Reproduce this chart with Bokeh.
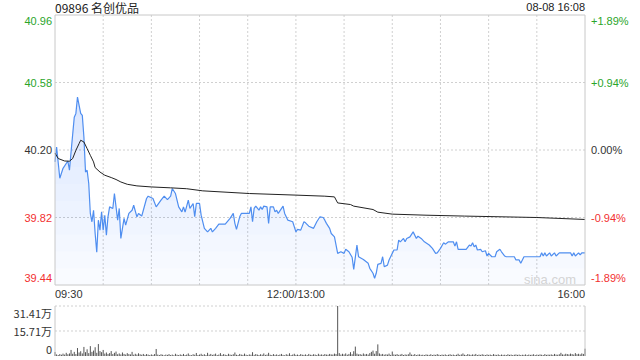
import numpy as np
from bokeh.plotting import figure
from bokeh.models import Range1d, Label
from bokeh.layouts import column
from bokeh.embed import file_html
from bokeh.resources import INLINE

# ---------------- data ----------------
title_text = "09896 名创优品"
stamp_text = "08-08 16:08"
prev_close = 40.20

price_labels_left = ["40.96", "40.58", "40.20", "39.82", "39.44"]
price_levels = [40.96, 40.58, 40.20, 39.82, 39.44]
pct_labels_right = ["+1.89%", "+0.94%", "0.00%", "-0.94%", "-1.89%"]
time_labels = ["09:30", "12:00/13:00", "16:00"]
time_label_pos = [0, 150, 330]          # trading minutes since 09:30
half_hour_ticks = [30, 60, 90, 120, 150, 180, 210, 240, 270, 300]
vol_labels = ["31.41万", "15.71万", "0"]
vol_levels = [31.41, 15.71, 0]

# trading-minute index (0 = 09:30, 150 = 12:00/13:00, 330 = 16:00)
price_min = [0, 1, 3, 5, 8, 9, 10, 12, 13, 14, 16, 17, 18, 19, 20, 21, 22, 23, 24, 25,
             26, 27, 28, 29, 30, 31, 32, 33, 34, 36, 37, 39, 40, 41, 43, 44, 46, 48, 49, 51,
             52, 54, 55, 57, 58, 61, 63, 66, 68, 70, 72, 73, 75, 77, 79, 80, 81, 83, 84, 86,
             87, 88, 90, 91, 93, 95, 97, 98, 100, 102, 106, 109, 111, 112, 113, 115, 116, 121, 122, 123,
             124, 125, 127, 128, 129, 130, 132, 133, 134, 136, 137, 138, 139, 142, 143, 145, 148, 150, 151, 153,
             155, 156, 158, 161, 163, 165, 167, 168, 169, 171, 172, 174, 176, 178, 180, 181, 183, 185, 186, 188,
             189, 192, 195, 196, 198, 199, 200, 201, 203, 204, 205, 207, 208, 210, 211, 213, 214, 215, 217, 218,
             219, 221, 223, 225, 226, 228, 230, 233, 235, 237, 238, 240, 242, 243, 245, 248, 249, 250, 251, 255,
             256, 258, 259, 260, 261, 262, 263, 265, 266, 268, 269, 270, 272, 274, 275, 277, 278, 280, 281, 286,
             287, 289, 290, 292, 302, 303, 304, 305, 306, 308, 309, 311, 312, 314, 321, 322, 323, 324, 326, 327,
             328, 330]
price = [40.133, 40.217, 40.041, 40.097, 40.138, 40.086, 40.189, 40.385, 40.406, 40.498, 40.406, 40.395, 40.273, 40.076, 40.086, 40.013, 39.843, 39.796, 39.861, 39.730,
         39.624, 39.805, 39.749, 39.852, 39.749, 39.833, 39.721, 39.824, 39.880, 39.871, 39.955, 39.805, 39.871, 39.702, 39.815, 39.777, 39.843, 39.861, 39.889, 39.824,
         39.843, 39.828, 39.861, 39.927, 39.940, 39.927, 39.880, 39.918, 39.940, 39.921, 39.940, 39.983, 39.955, 39.880, 39.852, 39.880, 39.850, 39.918, 39.871, 39.899,
         39.824, 39.899, 39.899, 39.833, 39.759, 39.739, 39.759, 39.739, 39.759, 39.783, 39.783, 39.815, 39.843, 39.787, 39.753, 39.824, 39.843, 39.843, 39.880, 39.796,
         39.871, 39.884, 39.861, 39.880, 39.865, 39.884, 39.880, 39.787, 39.880, 39.880, 39.852, 39.861, 39.843, 39.884, 39.843, 39.805, 39.796, 39.739, 39.753, 39.749,
         39.796, 39.790, 39.771, 39.759, 39.796, 39.824, 39.820, 39.805, 39.787, 39.759, 39.730, 39.711, 39.618, 39.627, 39.618, 39.641, 39.627, 39.596, 39.528, 39.665,
         39.599, 39.584, 39.562, 39.534, 39.506, 39.478, 39.506, 39.556, 39.562, 39.599, 39.543, 39.552, 39.581, 39.618, 39.637, 39.637, 39.693, 39.683, 39.702, 39.683,
         39.702, 39.711, 39.739, 39.702, 39.715, 39.702, 39.683, 39.665, 39.646, 39.618, 39.621, 39.646, 39.678, 39.670, 39.683, 39.683, 39.659, 39.683, 39.641, 39.641,
         39.641, 39.665, 39.659, 39.678, 39.655, 39.665, 39.637, 39.641, 39.627, 39.633, 39.603, 39.618, 39.599, 39.599, 39.627, 39.641, 39.627, 39.603, 39.599, 39.599,
         39.581, 39.581, 39.562, 39.599, 39.599, 39.621, 39.603, 39.621, 39.603, 39.621, 39.603, 39.621, 39.603, 39.621, 39.621, 39.603, 39.621, 39.603, 39.621, 39.609,
         39.621, 39.621]

avg_min = [0, 2, 6, 9, 11, 13, 15, 16, 18, 20, 22, 24, 25, 28, 31, 35, 38, 41, 45, 51,
           60, 72, 82, 92, 121, 150, 168, 174, 176, 184, 186, 198, 201, 210, 231, 255, 300, 330]
avg_price = [40.183, 40.152, 40.138, 40.137, 40.152, 40.198, 40.236, 40.255, 40.245, 40.208,
             40.170, 40.133, 40.101, 40.076, 40.058, 40.045, 40.034, 40.020, 40.007, 39.998,
             39.992, 39.987, 39.982, 39.970, 39.955, 39.946, 39.940, 39.936, 39.902, 39.893,
             39.884, 39.865, 39.850, 39.839, 39.833, 39.828, 39.820, 39.809]

# volume per minute, in 万 shares (index 0..330)
volume = [2.5, 1.0, 0.6, 1.2, 0.8, 1.5, 0.9, 2.0, 1.1, 1.6,
          3.8, 1.4, 2.6, 1.2, 5.0, 2.2, 3.0, 1.6, 5.7, 2.4,
          4.2, 1.8, 6.2, 2.6, 3.4, 5.5, 2.0, 7.5, 3.1, 2.4,
          3.8, 1.5, 2.2, 1.3, 1.8, 3.1, 1.2, 2.0, 2.8, 1.1,
          1.6, 1.0, 2.2, 1.3, 0.9, 1.8, 1.2, 1.0, 2.6, 0.8,
          1.4, 0.9, 1.7, 1.1, 0.8, 1.3, 0.7, 1.2, 0.9, 0.6,
          1.0, 0.7, 1.2, 4.4, 0.9, 0.6, 1.1, 0.8, 0.5, 0.9,
          0.7, 1.2, 0.6, 0.9, 0.5, 1.4, 0.8, 0.6, 1.0, 0.7,
          1.3, 0.6, 0.9, 1.6, 0.7, 0.5, 1.1, 0.8, 1.9, 0.6,
          0.9, 1.4, 0.7, 1.1, 0.6, 2.0, 0.8, 1.3, 0.7, 1.0,
          1.5, 0.6, 0.9, 1.8, 0.7, 1.2, 0.8, 0.6, 1.4, 0.9,
          0.7, 1.1, 2.2, 0.8, 0.6, 1.3, 0.9, 0.7, 1.5, 0.8,
          0.6, 1.0, 0.8, 2.4, 0.7, 1.2, 0.9, 0.6, 1.1, 0.8,
          1.6, 0.7, 0.9, 2.0, 0.8, 0.6, 1.2, 0.7, 1.0, 0.6,
          0.9, 1.3, 0.7, 0.5, 1.1, 0.8, 1.7, 0.6, 0.9, 1.4,
          0.7, 0.9, 0.6, 1.2, 0.8, 0.7, 1.0, 0.6, 1.3, 0.8,
          0.7, 1.1, 0.9, 0.6, 1.4, 0.8, 1.0, 0.7, 1.2, 0.9,
          0.8, 1.3, 1.0, 0.9, 1.5, 1.2, 31.41, 1.8, 0.9, 1.4,
          1.0, 1.6, 0.8, 1.3, 2.4, 1.1, 3.0, 5.9, 1.5, 1.0,
          1.2, 0.8, 1.6, 1.0, 1.3, 0.9, 1.8, 2.6, 3.4, 1.4,
          3.1, 7.3, 1.6, 1.0, 1.3, 0.8, 1.1, 0.9, 1.5, 0.7,
          2.8, 1.0, 0.8, 1.2, 0.7, 0.9, 1.3, 0.6, 1.0, 0.8,
          1.1, 2.2, 0.9, 0.7, 1.2, 0.6, 0.9, 1.0, 0.7, 0.8,
          0.6, 1.0, 0.8, 0.7, 1.1, 0.6, 0.9, 0.7, 1.2, 0.8,
          0.6, 0.9, 0.7, 1.0, 0.6, 0.8, 1.1, 0.7, 0.9, 0.6,
          0.8, 1.4, 0.7, 1.0, 1.6, 0.8, 0.6, 1.2, 0.9, 0.7,
          1.0, 0.8, 1.3, 0.6, 0.9, 0.7, 1.1, 0.8, 0.6, 1.0,
          0.7, 0.9, 0.6, 1.2, 0.8, 0.7, 1.0, 0.6, 0.9, 0.7,
          0.8, 0.6, 1.1, 0.7, 0.9, 0.6, 0.8, 1.0, 0.7, 0.9,
          0.6, 0.8, 0.7, 1.0, 0.6, 0.9, 0.7, 0.8, 1.1, 0.6,
          0.9, 0.7, 1.0, 0.8, 0.6, 1.2, 0.7, 0.9, 0.8, 1.0,
          0.7, 1.3, 0.9, 0.8, 1.1, 2.0, 1.0, 0.9, 1.4, 1.2,
          1.0, 1.5, 1.2, 0.9, 1.8, 1.1, 1.4, 1.0, 1.6, 1.3,
          4.6]

# ---------------- style / layout ----------------
GREEN = "#2aa52a"
RED = "#f23030"
DARK = "#333333"
GRID = "#d0d0d0"
BOX = "#c8c8c8"
FONT = "Liberation Sans"
CJK = "Noto Sans CJK SC"
LINE_BLUE = "#4f8ef0"

W = 640
H1, H2 = 300, 60
BOX_L, BOX_R = 54.5, 584.5          # plot box edges in pixels
P_TOP, P_BOT = 14.5, 284.5          # price box (pixels in panel 1)
V_TOP, V_BOT = 5.5, 55.5            # volume box (pixels in panel 2)

XMIN, XMAX = 0, 330
YMIN, YMAX = price_levels[-1], price_levels[0]
VMIN, VMAX = vol_levels[-1], vol_levels[0]

def extend(lo, hi, px_lo, px_hi, total):
    """data range whose full canvas extent puts lo at px_lo and hi at px_hi"""
    k = (hi - lo) / (px_hi - px_lo)
    return lo - px_lo * k, hi + (total - px_hi) * k

xs, xe = extend(XMIN, XMAX, BOX_L, BOX_R, W)
ys, ye = extend(YMIN, YMAX, H1 - P_BOT, H1 - P_TOP, H1)
vs, ve = extend(VMIN, VMAX, H2 - V_BOT, H2 - V_TOP, H2)

def make_fig(h, yr):
    f = figure(width=W, height=h, x_range=Range1d(xs, xe), y_range=Range1d(*yr),
               output_backend="svg", toolbar_location=None,
               x_axis_location=None, y_axis_location=None, min_border=0)
    f.center = []
    f.outline_line_color = None
    f.background_fill_color = "white"
    f.border_fill_color = "white"
    return f

# ---------------- price panel ----------------
p = make_fig(H1, (ys, ye))

# grid
p.segment(x0=half_hour_ticks, y0=YMIN, x1=half_hour_ticks, y1=YMAX,
          line_color=GRID, line_width=1, line_dash="2 2")
mid_levels = price_levels[1:-1]
p.segment(x0=XMIN, y0=mid_levels, x1=XMAX, y1=mid_levels,
          line_color=GRID, line_width=1, line_dash="2 2")

# gradient-like area fill under the price line
pr = np.array(price)
p.varea(x=price_min, y1=YMIN, y2=pr, fill_color=LINE_BLUE, fill_alpha=0.03)
for lv in np.linspace(YMIN, YMAX, 17)[1:]:
    p.varea(x=price_min, y1=lv, y2=np.maximum(pr, lv), fill_color=LINE_BLUE, fill_alpha=0.016)

p.line(price_min, price, line_color=LINE_BLUE, line_width=1.2)
p.line(avg_min, avg_price, line_color="#222222", line_width=1)

# box
p.quad(left=XMIN, right=XMAX, bottom=YMIN, top=YMAX, fill_color=None, line_color=BOX, line_width=1)

def colour_for(val):
    if abs(val - prev_close) < 1e-9:
        return DARK
    return GREEN if val > prev_close else RED

n = len(price_levels)
for i, (lv, lt, rt) in enumerate(zip(price_levels, price_labels_left, pct_labels_right)):
    off = -6 if i == 0 else (7 if i == n - 1 else 0)
    c = colour_for(lv)
    p.add_layout(Label(x=XMIN, y=lv, x_offset=-3, y_offset=off, text=lt, text_align="right",
                       text_baseline="middle", text_font=FONT, text_font_size="11px", text_color=c))
    p.add_layout(Label(x=XMAX, y=lv, x_offset=6, y_offset=off, text=rt, text_align="left",
                       text_baseline="middle", text_font=FONT, text_font_size="11px", text_color=c))

for t, xp, al in zip(time_labels, time_label_pos, ["left", "center", "right"]):
    p.add_layout(Label(x=xp, y=YMIN, y_offset=-9, text=t, text_align=al, text_baseline="middle",
                       text_font=FONT, text_font_size="11px", text_color=DARK))

p.add_layout(Label(x=XMIN, y=YMAX, y_offset=8, text=title_text, text_align="left",
                   text_baseline="middle", text_font=CJK, text_font_size="12px", text_color="#222222"))
p.add_layout(Label(x=XMAX, y=YMAX, y_offset=8, text=stamp_text, text_align="right",
                   text_baseline="middle", text_font=FONT, text_font_size="11px", text_color="#222222"))
p.add_layout(Label(x=XMAX, y=YMIN, x_offset=-9, y_offset=6, text="sina.com", text_align="right",
                   text_baseline="middle", text_font=FONT, text_font_size="13px", text_color="#d4d4d4"))

# ---------------- volume panel ----------------
v = make_fig(H2, (vs, ve))
v.segment(x0=XMIN, y0=vol_levels[:2], x1=XMAX, y1=vol_levels[:2],
          line_color=GRID, line_width=1, line_dash="2 2")
vol_x = list(range(len(volume)))
v.segment(x0=vol_x, y0=0, x1=vol_x, y1=volume, line_color="#555555", line_width=1)
v.segment(x0=[XMIN, XMAX], y0=VMIN, x1=[XMIN, XMAX], y1=VMAX, line_color=BOX, line_width=1)

for i, (lv, lt) in enumerate(zip(vol_levels, vol_labels)):
    off = -7 if i == 0 else (6 if i == len(vol_levels) - 1 else 0)
    v.add_layout(Label(x=XMIN, y=lv, x_offset=-3, y_offset=off, text=lt, text_align="right",
                       text_baseline="middle", text_font=CJK, text_font_size="11px", text_color=DARK))

layout = column(p, v, spacing=0)
open("out.html", "w").write(file_html(layout, INLINE))
